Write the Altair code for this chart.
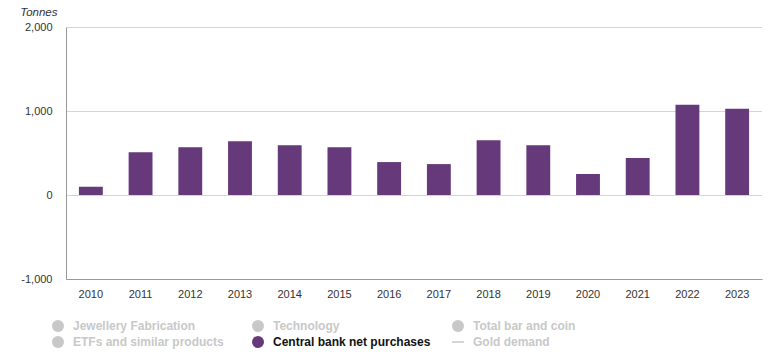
import altair as alt
import pandas as pd

years = ["2010", "2011", "2012", "2013", "2014", "2015", "2016",
         "2017", "2018", "2019", "2020", "2021", "2022", "2023"]
purchases = [98, 510, 568, 639, 592, 568, 392, 368, 651, 592, 251, 439, 1074, 1027]

series_names = ["Jewellery Fabrication", "Technology", "Total bar and coin",
                "ETFs and similar products", "Central bank net purchases", "Gold demand"]
series_colors = ["#c8c8c8", "#c8c8c8", "#c8c8c8", "#c8c8c8", "#65397a", "#c8c8c8"]
y_ticks = [-1000, 0, 1000, 2000]

df = pd.DataFrame({"year": years, "value": purchases,
                   "series": ["Central bank net purchases"] * len(years)})

FONT = "Liberation Sans"

chart = alt.Chart(df).mark_bar().encode(
    x=alt.X("year:N", sort=years,
            scale=alt.Scale(paddingInner=0.52, paddingOuter=0.26),
            axis=alt.Axis(title=None, labelAngle=0, ticks=False, domain=True,
                          domainColor="#999999", labelPadding=9, labelFontSize=11,
                          labelColor="#333333", labelFont=FONT, grid=False)),
    y=alt.Y("value:Q", scale=alt.Scale(domain=[-1000, 2000], nice=False),
            axis=alt.Axis(values=y_ticks,
                          labelExpr="datum.value < 0 ? '-' + format(-datum.value, ',') : format(datum.value, ',')",
                          title="Tonnes", titleAngle=0, titleFontStyle="italic",
                          titleFontWeight="normal", titleFont=FONT, titleFontSize=11.5,
                          titleColor="#333333",
                          titleX=-9, titleY=-12, titleAlign="right", titleBaseline="alphabetic",
                          ticks=False, labelPadding=14, labelFont=FONT, labelFontSize=11,
                          labelColor="#333333", gridDash=[1, 1], gridColor="#aaaaaa",
                          domainColor="#999999")),
    color=alt.Color("series:N",
                    scale=alt.Scale(domain=series_names, range=series_colors),
                    legend=alt.Legend(
                        title=None, orient="none", legendX=-15, legendY=292,
                        direction="horizontal", columns=3, gridAlign="all",
                        columnPadding=18, rowPadding=-4, symbolSize=144,
                        symbolType={"expr": "datum.label === 'Gold demand' ? 'stroke' : 'circle'"},
                        symbolStrokeColor={"expr": "datum.label === 'Gold demand' ? '#c8c8c8' : 'transparent'"},
                        symbolStrokeWidth=1.5,
                        labelFont=FONT, labelFontSize=12, labelFontWeight="bold",
                        labelColor={"expr": "datum.label === 'Central bank net purchases' ? '#111111' : '#c8c8c8'"},
                        labelOffset=8, padding=0, offset=0)),
).properties(
    width=696, height=252,
    padding={"left": 66, "top": 27, "right": 8, "bottom": 77},
    autosize="none",
).configure_view(stroke=None)

chart.save("out.html", embed_options={"renderer": "svg", "actions": False})
